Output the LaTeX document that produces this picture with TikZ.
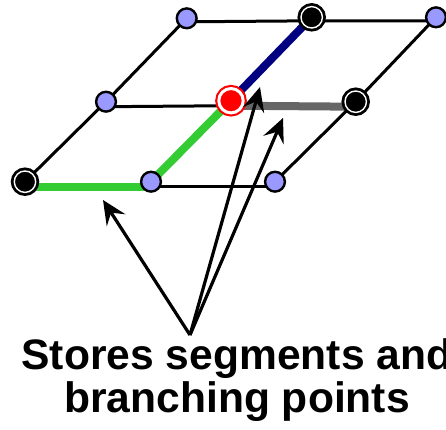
\documentclass[tikz,border=0pt]{standalone}
\usepackage{fontspec}
\setmainfont{Liberation Sans}
\usetikzlibrary{arrows.meta}
\definecolor{pblue}{RGB}{153,153,255}
\definecolor{pgreen}{RGB}{51,204,51}
\definecolor{pnavy}{RGB}{0,0,128}
\definecolor{pgray}{RGB}{102,102,102}
\tikzset{
  bnode/.style={circle,draw=black,fill=pblue,line width=2.4pt,minimum size=19.8pt,inner sep=0pt},
  knode/.style={circle,draw=black,double=white,double distance=1.4pt,line width=2.8pt,fill=black,minimum size=21.4pt,inner sep=0pt},
  rnode/.style={circle,draw=red,double=white,double distance=3pt,line width=2.1pt,fill=red,minimum size=24.4pt,inner sep=0pt},
  thin/.style={line width=3pt,black},
  thick/.style={line width=8pt},
  ptr/.style={line width=3.2pt,-{Stealth[length=24pt,width=22pt,inset=9pt]}},
  lbl/.style={font=\fontsize{42.6}{44}\selectfont\bfseries,anchor=base,inner sep=0pt}
}
\begin{document}
\begin{tikzpicture}[x=1pt,y=-1pt]
\useasboundingbox (0,0) rectangle (446,429);
% node positions
\coordinate (p11) at (186.7,18.3);
\coordinate (p12) at (311.7,17.3);
\coordinate (p13) at (436,17.3);
\coordinate (p21) at (106,101.7);
\coordinate (p22) at (231,100.7);
\coordinate (p23) at (355.7,101.7);
\coordinate (p31) at (25,181.7);
\coordinate (p32) at (151,181.7);
\coordinate (p33) at (275,181.7);
% horizontal lines (slightly below node centres as in the reference)
\draw[thin] ([yshift=-3.5pt]p11) -- ([yshift=-3.5pt]p12) -- ([yshift=-3.5pt]p13);
\draw[thin] ([yshift=-5pt]p21) -- ([yshift=-5pt]p22);
\draw[thick,pgray] ([yshift=-5pt]p22) -- ([yshift=-5pt]p23);
\draw[thick,pgreen] ([yshift=-5pt]p31) -- ([yshift=-5pt]p32);
\draw[thin] ([yshift=-5pt]p32) -- ([yshift=-5pt]p33);
% diagonals
\draw[thin] (p31) -- (p21) -- (p11);
\draw[thick,pgreen] (p32) -- (p22);
\draw[thick,pnavy] (p22) -- (p12);
\draw[thin] (p33) -- (p23) -- (p13);
% nodes
\node[bnode] (n11) at (p11) {};
\node[knode] (n12) at (p12) {};
\node[bnode] (n13) at (p13) {};
\node[bnode] (n21) at (p21) {};
\node[rnode] (n22) at (p22) {};
\node[knode] (n23) at (p23) {};
\node[knode] (n31) at (p31) {};
\node[bnode] (n32) at (p32) {};
\node[bnode] (n33) at (p33) {};
% arrows
\coordinate (o) at (190,335);
\coordinate (t1) at (103,200);
\coordinate (t2) at (260,87);
\coordinate (t3) at (283,118);
\draw[ptr] (o) -- (t1);
\draw[ptr] (o) -- (t2);
\draw[ptr] (o) -- (t3);
% text
\node[lbl] (l1) at (237,369) {Stores segments and};
\node[lbl] (l2) at (237,412) {branching points};
\end{tikzpicture}
\end{document}
